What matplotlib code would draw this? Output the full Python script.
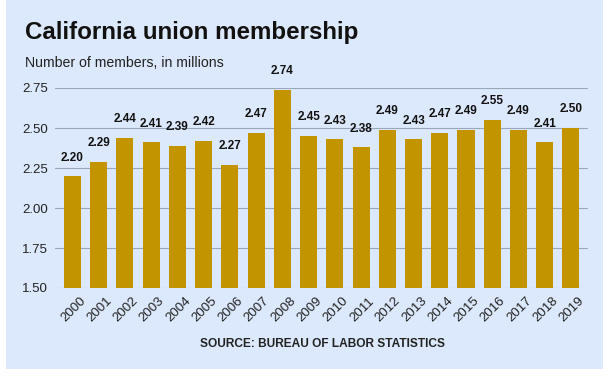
import matplotlib.pyplot as plt
import matplotlib.transforms as mtransforms
from matplotlib.patches import Rectangle

plt.rcParams['font.family'] = ['Liberation Sans', 'DejaVu Sans']

years = [str(y) for y in range(2000, 2020)]
members = [2.20, 2.29, 2.44, 2.41, 2.39, 2.42, 2.27, 2.47, 2.74, 2.45,
           2.43, 2.38, 2.49, 2.43, 2.47, 2.49, 2.55, 2.49, 2.41, 2.50]
yticks = [1.50, 1.75, 2.00, 2.25, 2.50, 2.75]

W, H = 612, 381
fig = plt.figure(figsize=(W / 100, H / 100), dpi=100)
fig.patch.set_facecolor('white')

# light blue panel
fig.patches.append(Rectangle((6 / W, 1 - 369 / H), (603 - 6) / W, 369 / H,
                             transform=fig.transFigure, facecolor='#dce8fb',
                             edgecolor='none', zorder=0))

ax = fig.add_axes([55 / W, 1 - 288 / H, (588 - 55) / W, 200 / H])
ax.set_zorder(2)
ax.set_facecolor('none')

x = range(len(years))
ax.bar(x, members, width=0.65, color='#c29400', zorder=3)
ax.set_xlim(-0.667, len(years) - 1 + 0.65)
ax.set_ylim(1.5, 2.75)
ax.set_yticks(yticks)
ax.set_yticklabels([f'{v:.2f}' for v in yticks], fontsize=9.5, color='#222222')
ax.set_xticks(list(x))
ax.set_xticklabels(years, rotation=45, ha='right', rotation_mode='anchor',
                   fontsize=9.5, color='#222222')
ax.tick_params(axis='both', length=0)
ax.tick_params(axis='y', pad=5)
ax.tick_params(axis='x', pad=5)
shift = mtransforms.ScaledTranslation(7 / 100, 0, fig.dpi_scale_trans)
for lab in ax.get_xticklabels():
    lab.set_transform(lab.get_transform() + shift)
ax.grid(axis='y', color='#9aa6bb', linewidth=0.8, zorder=1)
for s in ax.spines.values():
    s.set_visible(False)

for i, v in enumerate(members):
    ax.annotate(f'{v:.2f}', (i, v), xytext=(0, 9), textcoords='offset points',
                ha='center', va='bottom', fontsize=8.5, fontweight='bold',
                color='#111111', annotation_clip=False)

fig.text(25 / W, 1 - 32 / H, 'California union membership', fontsize=17.4,
         fontweight='bold', ha='left', va='center', color='#111111')
fig.text(25 / W, 1 - 63 / H, 'Number of members, in millions', fontsize=10.2,
         ha='left', va='center', color='#222222')
fig.text(322 / W, 1 - 344 / H, 'SOURCE: BUREAU OF LABOR STATISTICS', fontsize=8.6,
         fontweight='bold', ha='center', va='center', color='#222222')

fig.savefig('out.png', dpi=100)
